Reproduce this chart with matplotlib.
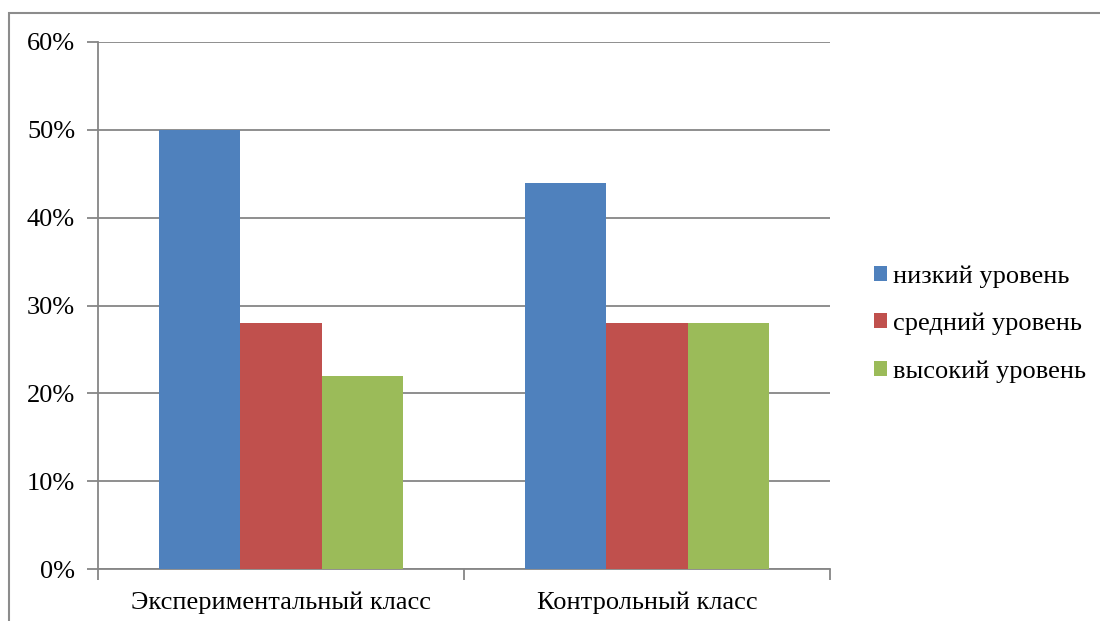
import numpy as np
import matplotlib.pyplot as plt
from matplotlib.patches import Rectangle

plt.rcParams['font.family'] = ['Liberation Serif', 'DejaVu Serif']

categories = ['Экспериментальный класс', 'Контрольный класс']
series = ['низкий уровень', 'средний уровень', 'высокий уровень']
low = [50, 44]
mid = [28, 28]
high = [22, 28]
colors = ['#4f81bd', '#c0504d', '#9bbb59']
yticks = [0, 10, 20, 30, 40, 50, 60]

fig = plt.figure(figsize=(11, 6.21), dpi=100)
ax = fig.add_axes([98 / 1100, 1 - 569 / 621, 732 / 1100, 527 / 621])

# outer chart frame (cut off at right and bottom like the reference)
fig.add_artist(Rectangle((9 / 1100, -0.05), 1.2, 1 - 13 / 621 + 0.05,
                         transform=fig.transFigure, fill=False,
                         edgecolor='#8c8c8c', lw=1.5))

grey = '#868686'
x = np.arange(len(categories))
w = 1 / 4.5
for i, (vals, name) in enumerate(zip([low, mid, high], series)):
    ax.bar(x + (i - 1) * w, vals, width=w, color=colors[i], label=name, zorder=3)

ax.set_xlim(-0.5, 1.5)
ax.set_ylim(0, 60)
ax.set_yticks(yticks)
ax.set_yticklabels([f'{t}%' for t in yticks], fontsize=19)
ax.yaxis.grid(True, color=grey, lw=1.3, zorder=0)

ax.set_xticks([-0.5, 0.5, 1.5])
ax.set_xticklabels([])
ax.set_xticks(x, minor=True)
ax.set_xticklabels(categories, minor=True, fontsize=19)
ax.tick_params(axis='x', which='minor', length=0, pad=16)
ax.tick_params(axis='x', which='major', length=8, color=grey, width=1.3)
ax.tick_params(axis='y', length=8, color=grey, width=1.3, pad=8.5)

for s in ['top', 'right']:
    ax.spines[s].set_visible(False)
for s in ['left', 'bottom']:
    ax.spines[s].set_color(grey)
    ax.spines[s].set_linewidth(1.3)

ax.legend(loc='center left', bbox_to_anchor=(1.027, 0.465), frameon=False,
          fontsize=19, handlelength=0.5, handleheight=0.5, handletextpad=0.25,
          labelspacing=0.95)

plt.savefig('out.png', dpi=100)
